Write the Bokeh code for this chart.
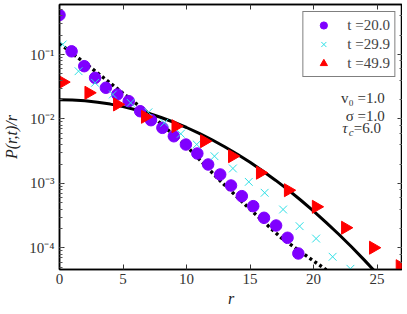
import math
from bokeh.plotting import figure
from bokeh.models import (Range1d, LinearAxis, LogAxis, Legend, LegendItem, Label,
                          CustomJSTickFormatter, SingleIntervalTicker, LogTicker)
from bokeh.embed import file_html
from bokeh.resources import INLINE

# ---- data ----
r_t20 = [0.0, 0.95, 1.95, 2.8, 3.65, 4.55, 5.45, 6.35, 7.2, 8.1, 9.0, 9.95, 10.85,
         11.7, 12.65, 13.5, 14.35, 15.25, 16.1, 17.05, 17.95, 18.8]
P_t20 = [0.41, 0.112, 0.0659, 0.0435, 0.0305, 0.024, 0.0189, 0.0132, 0.00958, 0.0073,
         0.0054, 0.00402, 0.00292, 0.00197, 0.00138, 0.00093, 0.000636, 0.000445,
         0.000294, 0.000223, 0.000144, 0.0000822]

r_t30 = [0.25, 1.5, 2.8, 4.2, 5.6, 7.0, 8.25, 9.55, 10.8, 12.2, 13.65, 14.9, 16.15,
         17.6, 18.9, 20.2, 21.5, 22.9]
P_t30 = [0.143, 0.0551, 0.0364, 0.024, 0.0178, 0.0127, 0.00873, 0.0059, 0.00403,
         0.00265, 0.00171, 0.00106, 0.000718, 0.000395, 0.000218, 0.00014,
         0.0000731, 0.0000476]

r_t50 = [0.25, 2.3, 4.55, 6.75, 9.15, 11.4, 13.6, 15.8, 18.0, 20.2, 22.5, 24.7, 26.8]
P_t50 = [0.0373, 0.0255, 0.0168, 0.0108, 0.00773, 0.00453, 0.00265, 0.00147,
         0.000787, 0.000435, 0.000206, 0.000101, 0.0000522]

# solid theory curve (long-time)
r_solid = [0, 1, 2, 3, 4, 5, 6, 7, 8, 9, 10, 11, 12, 13, 14, 15, 16, 17, 18, 19, 20,
           21, 22, 23, 24, 25, 26]
P_solid = [0.01995, 0.01975, 0.01917, 0.01824, 0.01702, 0.01556, 0.01395, 0.01226,
           0.01056, 0.00891, 0.00738, 0.00599, 0.00476, 0.00371, 0.00284, 0.00213,
           0.00156, 0.001126, 0.000795, 0.00055, 0.000373, 0.000248, 0.000162,
           0.0001034, 0.0000648, 0.0000398, 0.000024]

# dotted theory curve (short-time)
r_dot = [0, 2.5, 5, 7.5, 10, 12.5, 15, 17.5, 21]
P_dot = [0.148, 0.0617, 0.0251, 0.01023, 0.0038, 0.001175, 0.000398, 0.000141, 0.0000457]

labels = ["t =20.0", "t =29.9", "t =49.9"]
params = ["v₀ =1.0", "σ =1.0"]
panel_tag = "B)"

SERIF = "Liberation Serif"

p = figure(width=402, height=309, y_axis_type="log",
           x_range=Range1d(0, 27), y_range=Range1d(4.64e-5, 0.596),
           output_backend="svg", toolbar_location=None,
           min_border_left=58, min_border_right=0, min_border_top=4, min_border_bottom=20)
p.grid.visible = False
p.outline_line_color = "black"
p.outline_line_width = 1.5

r_solid_line = p.line(r_solid, P_solid, line_color="black", line_width=3)
r_dot_line = p.line(r_dot, P_dot, line_color="black", line_width=3.4, line_dash="3 3")

c1 = p.scatter(r_t20, P_t20, marker="circle", size=11.5, fill_color="#7f00ff",
               line_color="#7f00ff")
c2 = p.scatter(r_t30, P_t30, marker="x", size=11, line_color="#2ee0e6", line_width=1)
c3 = p.scatter(r_t50, P_t50, marker="triangle", size=13, angle=-math.pi / 2,
               fill_color="#ff0000", line_color="#ff0000")

sup_js = """
const sup = {'-':'\\u207b','0':'\\u2070','1':'\\u00b9','2':'\\u00b2','3':'\\u00b3','4':'\\u2074',
             '5':'\\u2075','6':'\\u2076','7':'\\u2077','8':'\\u2078','9':'\\u2079'};
const e = Math.round(Math.log10(tick));
return '10' + String(e).split('').map(c => sup[c]).join('');
"""

def style_axis(ax, labels_on=True):
    ax.axis_line_color = "black"
    ax.axis_line_width = 1.5
    ax.major_tick_in = 5
    ax.major_tick_out = 0
    ax.minor_tick_in = 3
    ax.minor_tick_out = 0
    ax.major_tick_line_color = "#333333"
    ax.minor_tick_line_color = "#555555"
    ax.major_label_text_font = SERIF
    ax.major_label_text_font_size = "15px"
    ax.major_label_text_color = "#333333"
    ax.axis_label_text_font = SERIF
    ax.axis_label_text_font_style = "italic"
    ax.axis_label_text_font_size = "16px"
    ax.axis_label_text_color = "#222222"
    if not labels_on:
        ax.major_label_text_color = None

xt = SingleIntervalTicker(interval=5, num_minor_ticks=0)
p.xaxis.ticker = xt
p.xaxis.axis_label = "r"
style_axis(p.xaxis[0])
p.xaxis.axis_label_standoff = 3
p.xaxis.major_label_standoff = 4
p.xaxis.minor_tick_line_color = None

p.yaxis.axis_label = "P(r,t)/r"
p.yaxis.formatter = CustomJSTickFormatter(code=sup_js)
style_axis(p.yaxis[0])
p.yaxis.major_label_standoff = 5
p.yaxis.axis_label_standoff = 6

top = LinearAxis(ticker=SingleIntervalTicker(interval=5, num_minor_ticks=0))
style_axis(top, labels_on=False)
top.minor_tick_line_color = None
top.major_label_standoff = 0
p.add_layout(top, "above")

right = LogAxis(ticker=LogTicker())
style_axis(right, labels_on=False)
right.major_label_standoff = 0
p.add_layout(right, "right")

legend = Legend(items=[LegendItem(label=labels[0], renderers=[c1]),
                       LegendItem(label=labels[1], renderers=[c2]),
                       LegendItem(label=labels[2], renderers=[c3])],
                location="top_right")
legend.margin = 7
legend.padding = 4
legend.spacing = 1
legend.glyph_width = 32
legend.glyph_height = 18
legend.label_height = 18
legend.label_standoff = 8
legend.label_text_font = SERIF
legend.label_text_font_size = "15px"
legend.border_line_color = "black"
legend.border_line_width = 1.2
legend.background_fill_alpha = 1.0
p.add_layout(legend)

# parameter annotations, anchored in data space, right-aligned
xr = 25.6
TXT = dict(text_baseline="middle", text_font=SERIF, text_color="#333333")
p.add_layout(Label(x=xr, y=0.0208, text=params[0], text_align="right",
                   text_font_size="15px", **TXT))
p.add_layout(Label(x=xr, y=0.01094, text=params[1], text_align="right",
                   text_font_size="15px", **TXT))
p.add_layout(Label(x=xr, y=0.00738, text=" =6.0", text_align="right",
                   text_font_size="15px", **TXT))
p.add_layout(Label(x=xr, y=0.00738, x_offset=-31, y_offset=-4, text="c",
                   text_align="right", text_font_style="italic",
                   text_font_size="11px", **TXT))
p.add_layout(Label(x=xr, y=0.00738, x_offset=-37, text="τ", text_align="right",
                   text_font_style="italic", text_font_size="15px", **TXT))

# panel tag "B)" drawn as a glyph-less legend placed left of the frame (not clipped)
tag_renderer = p.scatter([], [], marker="circle", size=1, fill_alpha=0, line_alpha=0)
tag = Legend(items=[LegendItem(label=panel_tag, renderers=[tag_renderer])],
             location=(-57, 249))
tag.glyph_width = 1
tag.glyph_height = 18
tag.label_height = 18
tag.label_standoff = 0
tag.padding = 0
tag.margin = 0
tag.border_line_color = None
tag.background_fill_color = None
tag.background_fill_alpha = 0
tag.label_text_font = SERIF
tag.label_text_font_style = "bold"
tag.label_text_font_size = "19px"
tag.label_text_color = "black"
p.add_layout(tag)

open("out.html", "w").write(file_html(p, INLINE))
